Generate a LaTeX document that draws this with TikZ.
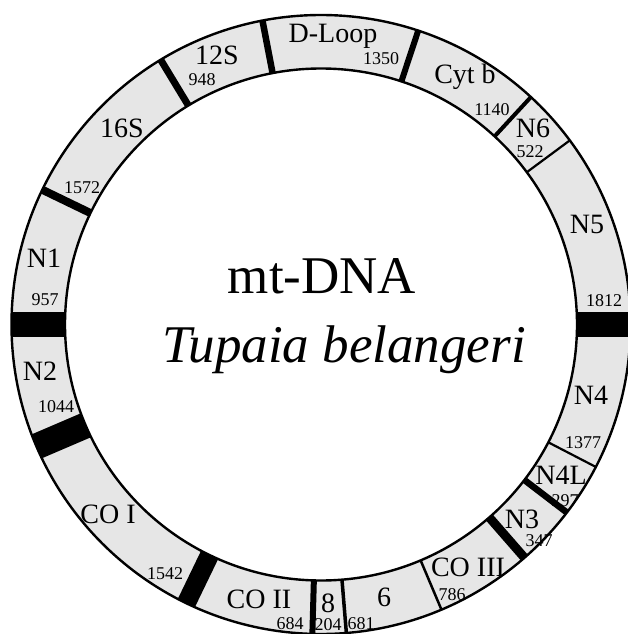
\documentclass[tikz,border=0pt]{standalone}
\usepackage{fontspec}
\setmainfont{Liberation Serif}
\definecolor{ringgray}{RGB}{230,230,230}
\begin{document}
\begin{tikzpicture}[x=1pt,y=-1pt,
  lbl/.style={font=\fontsize{28}{28}\selectfont, inner sep=0pt, anchor=base},
  num/.style={font=\fontsize{18}{18}\selectfont, inner sep=0pt, anchor=base},
  ttl/.style={font=\fontsize{53}{53}\selectfont, inner sep=0pt, anchor=base},
  divider/.style={line cap=butt, draw=black},
  rim/.style={draw=black, line width=2.4pt}]
\useasboundingbox (0,0) rectangle (627,634);
\coordinate (O) at (321,324.5);
\def\Ri{256}
\def\Ro{309.5}
% ring fill
\fill[ringgray, even odd rule] (O) circle[radius=\Ro pt] (O) circle[radius=\Ri pt];
% dividers: screen angle (clockwise from +x) / width
\foreach \a/\w in {-100.9/6.5, -71.7/6, -47.3/4, -36.5/2.2, 0/25, 27.4/2.2, 37.4/6.5,
                   48.9/9, 67.1/2.5, 85.3/3.5, 91.6/6, 115.8/19, 156.8/26, 180/25,
                   -154.2/8, -121.2/7}
  \draw[divider, line width=\w pt] ([shift={(\a:\Ri)}]O) -- ([shift={(\a:\Ro)}]O);
% rims
\draw[rim] (O) circle[radius=\Ro pt];
\draw[rim] (O) circle[radius=\Ri pt];
% labels
\node[lbl] (l12S) at (217,65) {12S};
\node[num] (n948) at (202,85) {948};
\node[lbl] (lDL) at (333,43) {D-Loop};
\node[num] (n1350) at (381,65) {1350};
\node[lbl] (lCyt) at (465,83) {Cyt b};
\node[num] (n1140) at (492,115) {1140};
\node[lbl] (lN6) at (533,137) {N6};
\node[num] (n522) at (530,157) {522};
\node[lbl] (lN5) at (587,233) {N5};
\node[num] (n1812) at (604,306) {1812};
\node[lbl] (lN4) at (591,404) {N4};
\node[num] (n1377) at (583,448) {1377};
\node[lbl] (lN4L) at (561,484) {N4L};
\node[num] (n297) at (565,506) {297};
\node[lbl] (lN3) at (522,528) {N3};
\node[num] (n347) at (539,546) {347};
\node[lbl] (lCO3) at (468,576) {CO III};
\node[num] (n786) at (452,600) {786};
\node[lbl] (l6) at (384,606) {6};
\node[num] (n681) at (361,629) {681};
\node[lbl] (l8) at (328,612) {8};
\node[num] (n204) at (328,630) {204};
\node[lbl] (lCO2) at (259,608) {CO II};
\node[num] (n684) at (290,629) {684};
\node[num] (n1542) at (165,579) {1542};
\node[lbl] (lCO1) at (108,523) {CO I};
\node[lbl] (lN2) at (40,380) {N2};
\node[num] (n1044) at (56,412) {1044};
\node[lbl] (lN1) at (44,267) {N1};
\node[num] (n957) at (45,305) {957};
\node[num] (n1572) at (82,193) {1572};
\node[lbl] (l16S) at (122,137) {16S};
\node[ttl] (mt) at (322,293) {mt-DNA};
\node[ttl, font=\fontsize{53}{53}\selectfont\itshape] (sp) at (344,362) {Tupaia belangeri};
\end{tikzpicture}
\end{document}
